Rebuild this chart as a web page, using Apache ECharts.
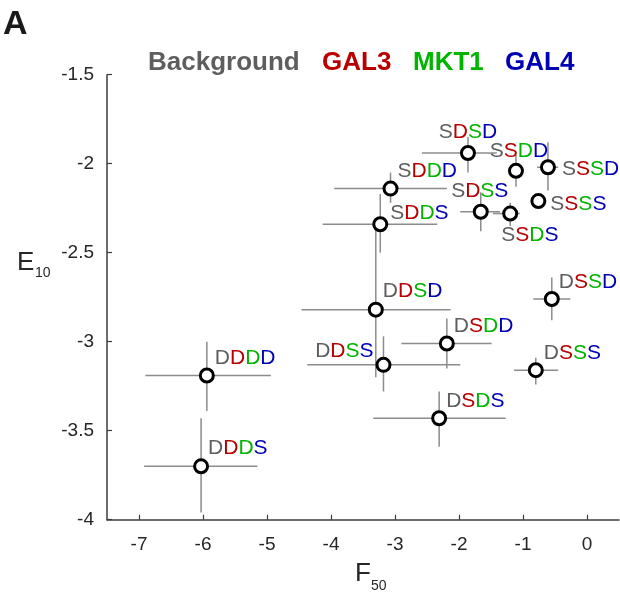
<!DOCTYPE html>
<html>
<head>
<meta charset="utf-8">
<script src="https://cdn.jsdelivr.net/npm/echarts@6/dist/echarts.min.js"></script>
<style>
  html, body { margin: 0; padding: 0; background: #fff; }
  #chart { width: 620px; height: 599px; }
</style>
</head>
<body>
<div id="chart"></div>
<script>
// Genotype at the four loci: Background, GAL3, MKT1, GAL4 (S / D)
const genotypes = ['SDSD', 'SSDD', 'SSSD', 'SDDD', 'SDSS', 'SSDS', 'SSSS', 'SDDS',
                   'DDSD', 'DSSD', 'DSDD', 'DDSS', 'DSSS', 'DSDS', 'DDDD', 'DDDS'];
// F50 (x) and E10 (y) means
const f50 = [-1.86, -1.11, -0.61, -3.07, -1.66, -1.20, -0.76, -3.23,
             -3.30, -0.55, -2.19, -3.18, -0.80, -2.31, -5.94, -6.03];
const e10 = [-1.94, -2.04, -2.02, -2.14, -2.27, -2.28, -2.21, -2.34,
             -2.82, -2.76, -3.01, -3.13, -3.16, -3.43, -3.19, -3.70];
// Error bar ends
const f50Low  = [-2.58, -1.20, -0.78, -3.95, -1.98, -1.47, -0.82, -4.13,
                 -4.46, -0.84, -2.90, -4.37, -1.14, -3.34, -6.90, -6.92];
const f50High = [-1.41, -1.02, -0.45, -2.19, -1.36, -1.05, -0.70, -2.34,
                 -2.13, -0.26, -1.49, -1.98, -0.45, -1.27, -4.94, -5.15];
const e10Low  = [-2.05, -2.13, -2.15, -2.22, -2.38, -2.35, -2.25, -2.50,
                 -3.20, -2.88, -3.15, -3.28, -3.24, -3.59, -3.39, -3.96];
const e10High = [-1.85, -1.95, -1.88, -2.05, -2.16, -2.22, -2.17, -2.17,
                 -2.37, -2.64, -2.87, -2.97, -3.09, -3.28, -3.00, -3.43];

const xTicks = [-7, -6, -5, -4, -3, -2, -1, 0];
const yTicks = [-4, -3.5, -3, -2.5, -2, -1.5];

const lociNames = ['Background', 'GAL3', 'MKT1', 'GAL4'];
const lociColors = ['#5e5e5e', '#b80000', '#00b400', '#0000b4'];

const FONT = '"Liberation Sans", Arial, Helvetica, sans-serif';

// where each genotype label sits relative to its marker: [dx, dy, align]
const labelPlace = {
  SDSD: [0, -21, 'center'], SSDD: [3, -20, 'center'], SDSS: [-1, -21, 'center'],
  SSSD: [14, 2, 'left'], SSSS: [12, 3, 'left'], SSDS: [-9, 22, 'left'],
  SDDD: [7, -17, 'left'], SDDS: [10, -11, 'left'], DDSD: [7, -18, 'left'],
  DSDD: [7, -17, 'left'], DSSD: [7, -17, 'left'], DSSS: [8, -17, 'left'],
  DSDS: [7, -17, 'left'], DDDD: [8, -17, 'left'], DDDS: [7, -18, 'left'],
  DDSS: [-10, -14, 'right']
};

const rich = {};
lociColors.forEach((c, i) => {
  rich['c' + i] = { color: c, fontSize: 21, fontFamily: FONT };
});

const scatterData = genotypes.map((g, i) => {
  const p = labelPlace[g];
  return {
    name: g,
    value: [f50[i], e10[i]],
    label: { offset: [p[0], p[1]], align: p[2] }
  };
});

const errData = genotypes.map((g, i) => [f50[i], e10[i], f50Low[i], f50High[i], e10Low[i], e10High[i]]);

const chart = echarts.init(document.getElementById('chart'), null, { renderer: 'canvas' });

const axisCommon = {
  axisLine: { show: true, onZero: false, lineStyle: { color: '#3c3c3c', width: 1.5 } },
  axisTick: { show: true, inside: true, length: 5, lineStyle: { color: '#3c3c3c', width: 1.2 } },
  splitLine: { show: false },
  axisLabel: { color: '#262626', fontSize: 19, fontFamily: FONT }
};

chart.setOption({
  animation: false,
  backgroundColor: '#ffffff',
  grid: { left: 107, right: 1, top: 74.7, bottom: 79.3, containLabel: false, outerBoundsMode: 'none' },
  xAxis: {
    type: 'value', min: -7.5, max: 0.5,
    ...axisCommon,
    axisTick: { ...axisCommon.axisTick, customValues: xTicks },
    axisLabel: { ...axisCommon.axisLabel, margin: 16, customValues: xTicks, formatter: v => String(v) }
  },
  yAxis: {
    type: 'value', min: -4, max: -1.5, interval: 0.5,
    ...axisCommon,
    axisTick: { ...axisCommon.axisTick, customValues: yTicks },
    axisLabel: { ...axisCommon.axisLabel, margin: 13, customValues: yTicks, formatter: v => String(v) }
  },
  series: [
    {
      type: 'custom',
      z: 1,
      encode: { x: [0, 2, 3], y: [1, 4, 5] },
      data: errData,
      renderItem: (params, api) => {
        const l = api.coord([api.value(2), api.value(1)]);
        const r = api.coord([api.value(3), api.value(1)]);
        const b = api.coord([api.value(0), api.value(4)]);
        const t = api.coord([api.value(0), api.value(5)]);
        const st = { stroke: '#8c8c8c', lineWidth: 1.5 };
        return {
          type: 'group',
          children: [
            { type: 'line', shape: { x1: l[0], y1: l[1], x2: r[0], y2: r[1] }, style: st },
            { type: 'line', shape: { x1: b[0], y1: b[1], x2: t[0], y2: t[1] }, style: st }
          ]
        };
      }
    },
    {
      type: 'scatter',
      z: 3,
      symbol: 'circle',
      symbolSize: 13,
      itemStyle: { color: '#ffffff', borderColor: '#000000', borderWidth: 3, opacity: 1 },
      label: {
        show: true,
        position: 'inside',
        verticalAlign: 'middle',
        formatter: p => p.name.split('').map((ch, k) => '{c' + k + '|' + ch + '}').join(''),
        rich: rich
      },
      emphasis: { disabled: true },
      data: scatterData
    }
  ],
  graphic: [
    { type: 'text', left: 3, top: 8, style: { text: 'A', font: 'bold 34px ' + FONT, fill: '#1a1a1a' } },
    { type: 'text', x: 148, y: 63, style: { text: lociNames[0], font: 'bold 26px ' + FONT, fill: lociColors[0], verticalAlign: 'middle' } },
    { type: 'text', x: 322, y: 63, style: { text: lociNames[1], font: 'bold 26px ' + FONT, fill: lociColors[1], verticalAlign: 'middle' } },
    { type: 'text', x: 413, y: 63, style: { text: lociNames[2], font: 'bold 26px ' + FONT, fill: lociColors[2], verticalAlign: 'middle' } },
    { type: 'text', x: 505, y: 63, style: { text: lociNames[3], font: 'bold 26px ' + FONT, fill: lociColors[3], verticalAlign: 'middle' } },
    // y axis title E10
    { type: 'text', x: 17, y: 263, style: { text: 'E', font: '26px ' + FONT, fill: '#262626', verticalAlign: 'middle' } },
    { type: 'text', x: 35, y: 273, style: { text: '10', font: '14px ' + FONT, fill: '#262626', verticalAlign: 'middle' } },
    // x axis title F50
    { type: 'text', x: 355, y: 574, style: { text: 'F', font: '26px ' + FONT, fill: '#262626', verticalAlign: 'middle' } },
    { type: 'text', x: 371, y: 586, style: { text: '50', font: '14px ' + FONT, fill: '#262626', verticalAlign: 'middle' } }
  ]
});
</script>
</body>
</html>
